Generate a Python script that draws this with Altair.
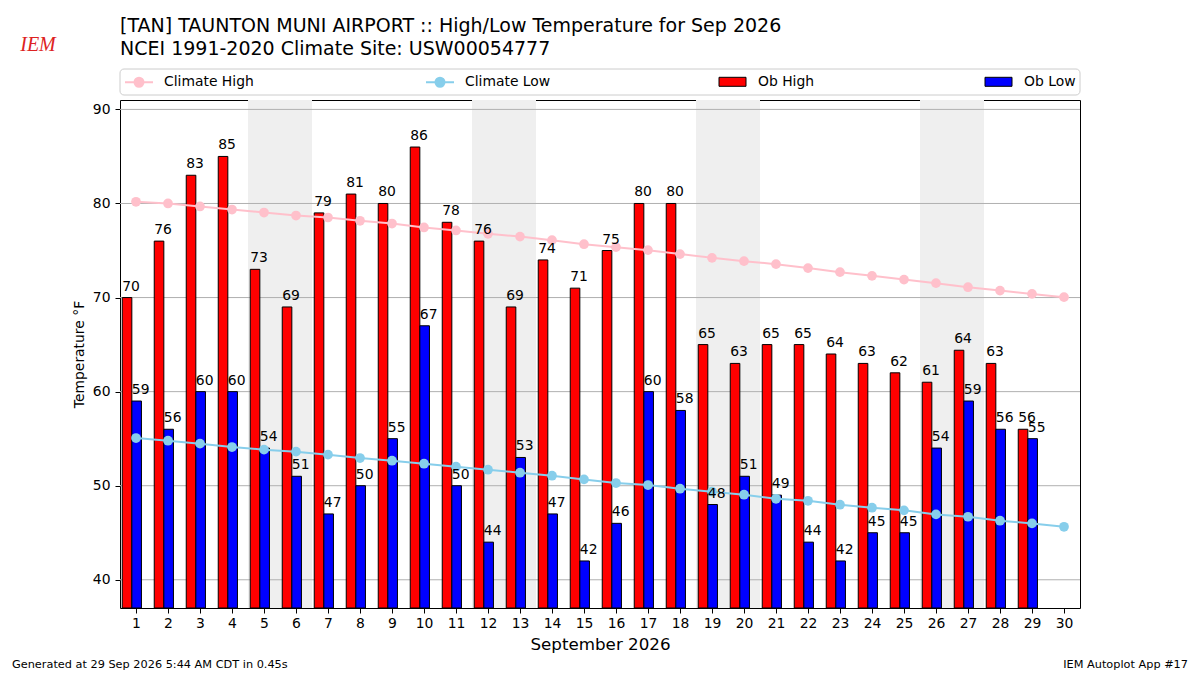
import altair as alt
import pandas as pd

FONT = "DejaVu Sans"

# ---------------- data ----------------
days = list(range(1, 31))
climate_high = [80.18, 80.0, 79.68, 79.36, 79.04, 78.72, 78.51, 78.16, 77.87, 77.45,
                77.13, 76.77, 76.48, 76.1, 75.67, 75.36, 75.04, 74.62, 74.22, 73.87,
                73.55, 73.13, 72.7, 72.31, 71.91, 71.53, 71.1, 70.74, 70.39, 70.04]
climate_low = [55.07, 54.78, 54.47, 54.11, 53.83, 53.62, 53.3, 52.94, 52.66, 52.34,
               52.02, 51.7, 51.38, 51.06, 50.67, 50.28, 50.07, 49.68, 49.37, 49.04,
               48.61, 48.4, 47.98, 47.66, 47.38, 46.95, 46.7, 46.28, 45.99, 45.63]
ob_days = list(range(1, 30))
ob_high = [70, 76, 83, 85, 73, 69, 79, 81, 80, 86, 78, 76, 69, 74, 71, 75, 80, 80,
           65, 63, 65, 65, 64, 63, 62, 61, 64.4, 63, 56]
ob_low = [59, 56, 60, 60, 54, 51, 47, 50, 55, 67, 50, 44, 53, 47, 42, 46, 60, 58,
          48, 51, 49, 44, 42, 45, 45, 54, 59, 56, 55]
weekend_start = [5, 12, 19, 26]
y_ticks = [40, 50, 60, 70, 80, 90]

clim_names = ["Climate High", "Climate Low"]
ob_names = ["Ob High", "Ob Low"]

title_line1 = "[TAN] TAUNTON MUNI AIRPORT :: High/Low Temperature for Sep 2026"
title_line2 = "NCEI 1991-2020 Climate Site: USW00054777"
x_title = "September 2026"
y_title = "Temperature °F"
footer_left = "Generated at 29 Sep 2026 5:44 AM CDT in 0.45s"
footer_right = "IEM Autoplot App #17"
logo_text = "IEM"

clim_df = pd.DataFrame({
    "day": days * 2,
    "temp": climate_high + climate_low,
    "series": [clim_names[0]] * len(days) + [clim_names[1]] * len(days),
})
obs_df = pd.DataFrame({
    "day": ob_days * 2,
    "temp": ob_high + ob_low,
    "series": [ob_names[0]] * len(ob_days) + [ob_names[1]] * len(ob_days),
})
weekend_df = pd.DataFrame({"day": weekend_start})
grid_df = pd.DataFrame({"t": y_ticks})

# ---------------- scales / axes ----------------
W, H = 960, 508
xs = alt.Scale(domain=[0.5, 30.5], nice=False, zero=False)
ys = alt.Scale(domain=[37, 91], nice=False, zero=False)

X_AX = alt.Axis(values=days, title=x_title, grid=False, domain=False, format="d",
                tickColor="black", tickSize=5, tickWidth=1,
                labelFontSize=13.9, labelColor="black", labelFont=FONT, labelPadding=3,
                labelFlush=False,
                titleFontSize=16.7, titleColor="black", titleFont=FONT,
                titleFontWeight="normal", titlePadding=7)
Y_AX = alt.Axis(values=y_ticks, title=y_title, grid=False, domain=False, format="d",
                tickColor="black", tickSize=5, tickWidth=1,
                labelFontSize=13.9, labelColor="black", labelFont=FONT, labelPadding=5,
                titleFontSize=13.9, titleColor="black", titleFont=FONT,
                titleFontWeight="normal", titlePadding=6)

clim_scale = alt.Scale(domain=clim_names, range=["#FFC0CB", "#87CEEB"])
ob_scale = alt.Scale(domain=ob_names, range=["#FF0000", "#0000FF"])

LINE_SYM = "M-1.4,0H1.4M-0.45,0A0.45,0.45,0,1,1,0.45,0A0.45,0.45,0,1,1,-0.45,0"
BAR_SYM = "M-1.5,-0.5H1.5V0.5H-1.5Z"

LINE_LEG = alt.Legend(title=None, orient="none", legendX=8, legendY=-29,
                      direction="horizontal", columns=2, columnPadding=168,
                      symbolType=LINE_SYM, symbolSize=400, symbolStrokeWidth=2,
                      labelFontSize=13.9, labelFont=FONT, labelColor="black",
                      labelOffset=14, padding=0)
BAR_LEG = alt.Legend(title=None, orient="none", legendX=603, legendY=-28,
                     direction="horizontal", columns=2, columnPadding=168,
                     symbolType=BAR_SYM, symbolSize=324, symbolStrokeColor="black",
                     symbolStrokeWidth=1, symbolOpacity=1,
                     labelFontSize=13.9, labelFont=FONT, labelColor="black",
                     labelOffset=16, padding=0)

# ---------------- layers ----------------
frame = alt.Chart(alt.Data(values=[{"k": 1}])).mark_rect(
    fill="white", stroke="#cccccc", strokeWidth=1, cornerRadius=4
).encode(x=alt.value(0), x2=alt.value(W), y=alt.value(-31), y2=alt.value(-5))

shade = alt.Chart(weekend_df).transform_calculate(
    x0="datum.day - 0.5", x1="datum.day + 1.5"
).mark_rect(color="#efefef").encode(
    x=alt.X("x0:Q", scale=xs, axis=X_AX), x2="x1:Q"
)

grid = alt.Chart(grid_df).mark_rule(color="#b0b0b0", strokeWidth=1).encode(
    y=alt.Y("t:Q", scale=ys, axis=Y_AX)
)

obs_base = alt.Chart(obs_df).transform_calculate(
    x0="datum.day + (datum.series == 'Ob High' ? -0.43 : -0.13)",
    x1="datum.day + (datum.series == 'Ob High' ? -0.13 : 0.17)",
    base="37",
)

bars = obs_base.mark_rect(stroke="black", strokeWidth=1).encode(
    x=alt.X("x0:Q", scale=xs, axis=X_AX), x2="x1:Q",
    y=alt.Y("temp:Q", scale=ys, axis=Y_AX), y2="base:Q",
    color=alt.Color("series:N", scale=ob_scale, legend=BAR_LEG),
)

lines = alt.Chart(clim_df).mark_line(strokeWidth=2).encode(
    x=alt.X("day:Q", scale=xs, axis=X_AX),
    y=alt.Y("temp:Q", scale=ys, axis=Y_AX),
    stroke=alt.Stroke("series:N", scale=clim_scale, legend=LINE_LEG),
    detail="series:N",
)

points = alt.Chart(clim_df).mark_circle(size=95, opacity=1).encode(
    x=alt.X("day:Q", scale=xs, axis=X_AX),
    y=alt.Y("temp:Q", scale=ys, axis=Y_AX),
    fill=alt.Fill("series:N", scale=clim_scale, legend=LINE_LEG),
)

labels = obs_base.mark_text(align="left", baseline="alphabetic", dy=-7,
                            fontSize=13.9, font=FONT, color="black").encode(
    x=alt.X("x0:Q", scale=xs, axis=X_AX),
    y=alt.Y("temp:Q", scale=ys, axis=Y_AX),
    text=alt.Text("temp:Q", format=".0f"),
)


def fixed_text(txt, x, y, size, align="left", baseline="middle", color="black",
               font=FONT, style="normal"):
    return alt.Chart(alt.Data(values=[{"t": txt}])).mark_text(
        align=align, baseline=baseline, fontSize=size, font=font, color=color,
        fontStyle=style
    ).encode(text="t:N", x=alt.value(x), y=alt.value(y))


t1 = fixed_text(title_line1, 0, -74, 19)
t2 = fixed_text(title_line2, 0, -51, 19)
f1 = fixed_text(footer_left, -108, 568, 11.3, baseline="alphabetic")
f2 = fixed_text(footer_right, 1068, 568, 11.3, align="right", baseline="alphabetic")
logo = fixed_text(logo_text, -82, -55, 20, align="center", color="#dd2222",
                  font="Liberation Serif", style="italic")

chart = alt.layer(
    frame, shade, grid, bars, lines, points, labels, t1, t2, f1, f2, logo
).properties(
    width=W, height=H,
    autosize=alt.AutoSizeParams(type="none"),
    padding={"left": 112, "top": 92, "right": 112, "bottom": 67},
).configure(font=FONT).configure_view(stroke="black", strokeWidth=1)

chart.save("out.html", embed_options={"renderer": "svg", "actions": False})
